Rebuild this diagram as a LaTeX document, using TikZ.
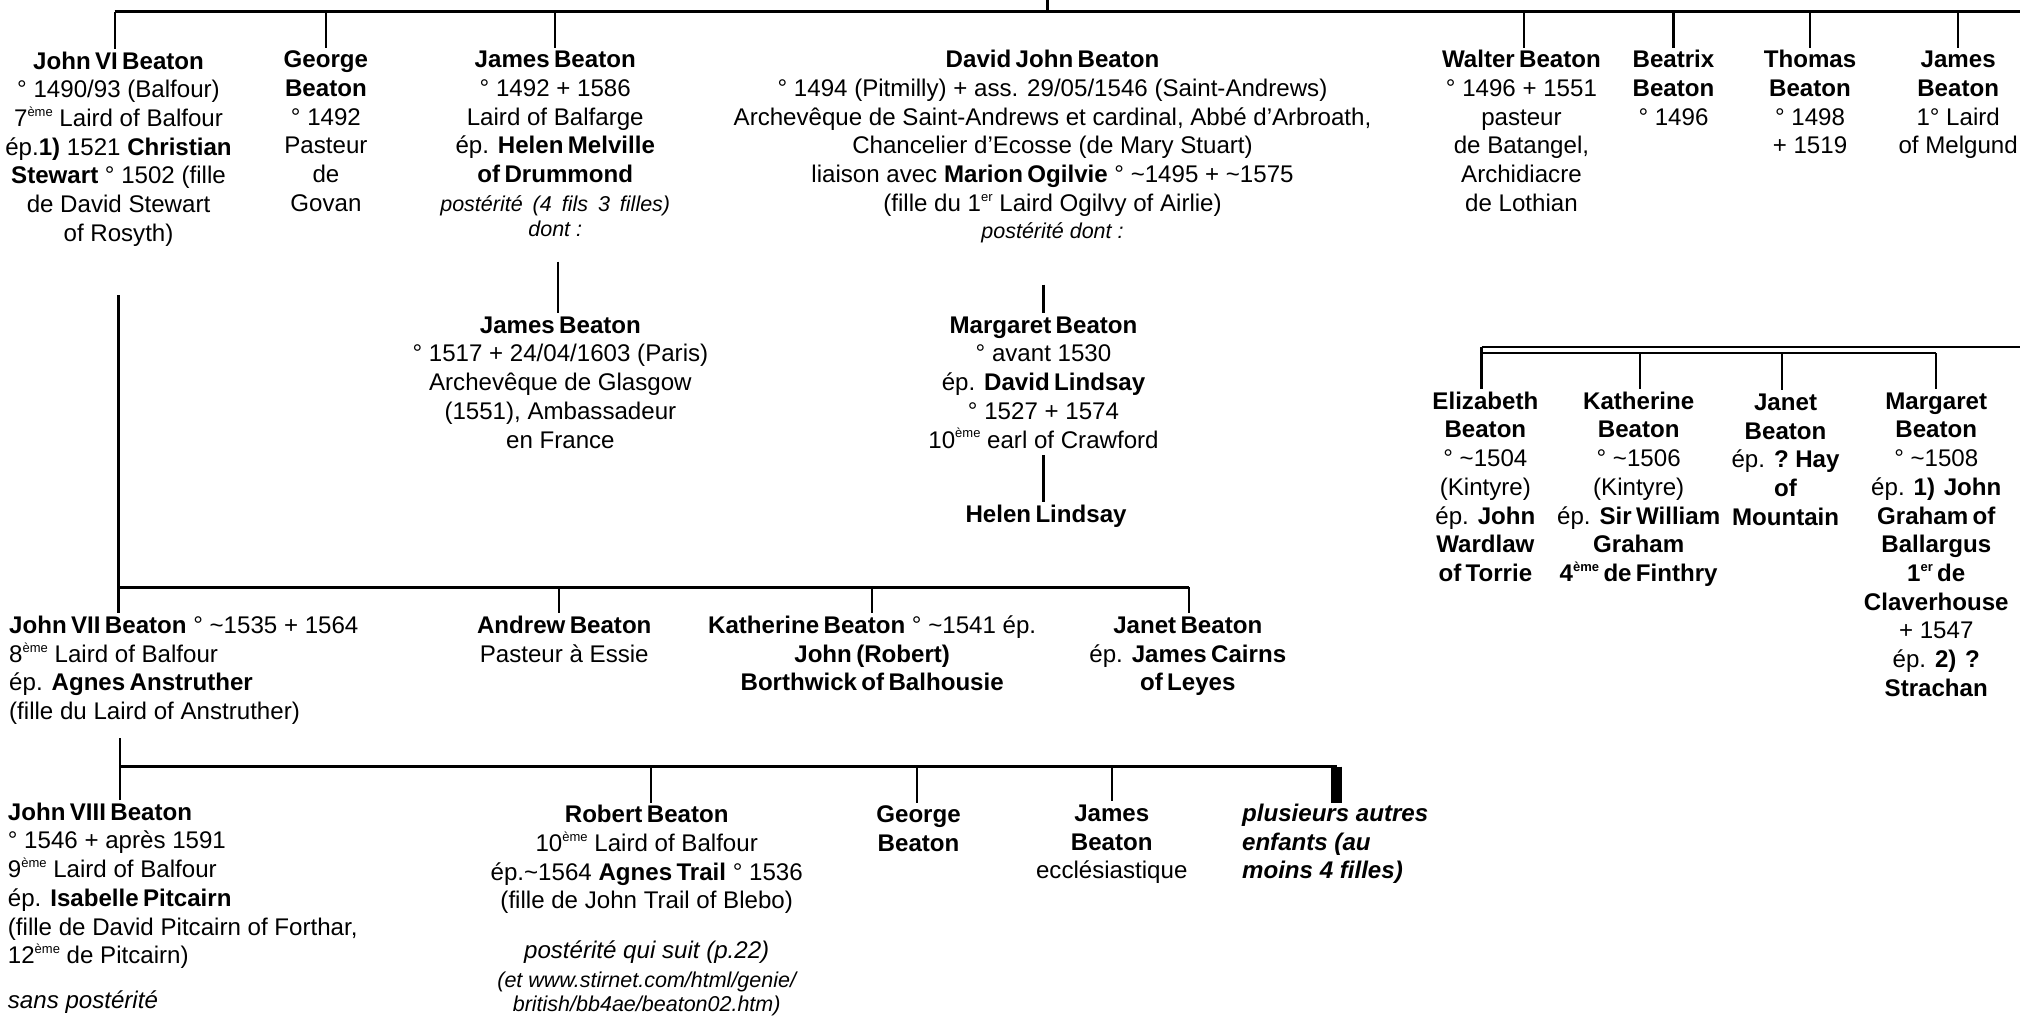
\documentclass[tikz,border=0pt]{standalone}
\usepackage{fontspec}
\setmainfont{Liberation Sans}[BoldFeatures={WordSpace=0.65}]
\newcommand\eme[1]{\raisebox{0.42em}{\fontsize{13}{13}\selectfont #1}}
\newcommand\tld{\textasciitilde}
\newcommand\smit[1]{{\fontsize{21.5}{22}\selectfont\itshape #1}}
\newcommand\mdit[1]{{\itshape #1}}
\newcommand\wg{\hspace{4pt}}
\newcommand\fl{\rule{0pt}{20pt}}
\tikzset{
  person/.style={anchor=north,inner sep=0pt,align=center,
    font=\fontsize{24.1}{28.7}\selectfont},
  personl/.style={person,anchor=north west,align=left},
  bar/.style={line width=2.7pt,black},
  stem/.style={line width=2.1pt,black},
  thinbar/.style={line width=2.2pt,black}
}
\begin{document}
\begin{tikzpicture}[x=1.28827pt,y=-1.28827pt]
\useasboundingbox (0,0) rectangle (1568,787.9);
% ---- first generation
\node[person] (john6) at (92,38) {\fl\textbf{John VI Beaton}\\° 1490/93 (Balfour)\\7\eme{ème} Laird of Balfour\\ép.\textbf{1)} 1521 \textbf{Christian}\\\textbf{Stewart} ° 1502 (fille\\de David Stewart\\of Rosyth)};
\node[person] (george) at (253,37) {\fl\textbf{George}\\\textbf{Beaton}\\° 1492\\Pasteur\\de\\Govan};
\node[person] (james) at (431,37) {\fl\textbf{James Beaton}\\° 1492 + 1586\\Laird of Balfarge\\ép. \textbf{Helen Melville}\\\textbf{of Drummond}\\\smit{postérité\wg{} (4\wg{} fils\wg{} 3\wg{} filles)}\\[-4pt]\smit{dont :}};
\node[person] (david) at (817,37) {\fl\textbf{David John Beaton}\\° 1494 (Pitmilly) + ass. 29/05/1546 (Saint-Andrews)\\Archevêque de Saint-Andrews et cardinal, Abbé d’Arbroath,\\Chancelier d’Ecosse (de Mary Stuart)\\liaison avec \textbf{Marion Ogilvie} ° \tld1495 + \tld1575\\(fille du 1\eme{er} Laird Ogilvy of Airlie)\\[-2pt]\smit{postérité dont :}};
\node[person] (walter) at (1181,37) {\fl\textbf{Walter Beaton}\\° 1496 + 1551\\pasteur\\de Batangel,\\Archidiacre\\de Lothian};
\node[person] (beatrix) at (1299,37) {\fl\textbf{Beatrix}\\\textbf{Beaton}\\° 1496};
\node[person] (thomas) at (1405,37) {\fl\textbf{Thomas}\\\textbf{Beaton}\\° 1498\\+ 1519};
\node[person] (james4) at (1520,37) {\fl\textbf{James}\\\textbf{Beaton}\\1° Laird\\of Melgund};
\coordinate (topin) at (813,0);
\coordinate (topjoin) at (813,9);
\coordinate (topl) at (89,9);
\coordinate (topr) at (1568,9);
\draw[bar] (topl) -- (topr);
\draw[bar] (topin) -- (topjoin);
\draw[stem] (topl) -- (topl |- john6.north);
\coordinate (t2) at (253,9);
\coordinate (t3) at (431,9);
\coordinate (t4) at (1183,9);
\coordinate (t5) at (1299,9);
\coordinate (t6) at (1405,9);
\coordinate (t7) at (1520,9);
\draw[stem] (t2) -- (t2 |- george.north);
\draw[stem] (t3) -- (t3 |- james.north);
\draw[stem] (t4) -- (t4 |- walter.north);
\draw[stem] (t5) -- (t5 |- beatrix.north);
\draw[stem] (t6) -- (t6 |- thomas.north);
\draw[stem] (t7) -- (t7 |- james4.north);
% ---- James and David descendants
\node[person] (james2) at (435,243) {\fl\textbf{James Beaton}\\° 1517 + 24/04/1603 (Paris)\\Archevêque de Glasgow\\(1551), Ambassadeur\\en France};
\coordinate (j2top) at (433,203);
\draw[stem] (j2top) -- (j2top |- james2.north);
\node[person] (margaret) at (810,243) {\fl\textbf{Margaret Beaton}\\° avant 1530\\ép. \textbf{David Lindsay}\\° 1527 + 1574\\10\eme{ème} earl of Crawford};
\coordinate (m2top) at (810,221);
\draw[stem] (m2top) -- (m2top |- margaret.north);
\node[person] (helen) at (812,390) {\fl\textbf{Helen Lindsay}};
\coordinate (h2top) at (810,353);
\draw[stem] (h2top) -- (h2top |- helen.north);
% ---- right family
\node[person] (eliz) at (1153,302) {\fl\textbf{Elizabeth}\\\textbf{Beaton}\\° \tld1504\\(Kintyre)\\ép. \textbf{John}\\\textbf{Wardlaw}\\\textbf{of Torrie}};
\node[person] (kath) at (1272,302) {\fl\textbf{Katherine}\\\textbf{Beaton}\\° \tld1506\\(Kintyre)\\ép. \textbf{Sir William}\\\textbf{Graham}\\\textbf{4\eme{ème} de Finthry}};
\node[person] (janet) at (1386,303) {\fl\textbf{Janet}\\\textbf{Beaton}\\ép. \textbf{? Hay}\\\textbf{of}\\\textbf{Mountain}};
\node[person] (marg2) at (1503,302) {\fl\textbf{Margaret}\\\textbf{Beaton}\\° \tld1508\\ép. \textbf{1)\ \ John}\\\textbf{Graham of}\\\textbf{Ballargus}\\\textbf{1\eme{er} de}\\\textbf{Claverhouse}\\+ 1547\\ép. \textbf{2)\ \ ?}\\\textbf{Strachan}};
\coordinate (r1) at (1150,269.5);
\coordinate (r2) at (1568,269.5);
\coordinate (s1) at (1150,274);
\coordinate (s2) at (1273,274);
\coordinate (s3) at (1383,274);
\coordinate (s4) at (1503,274);
\draw[thinbar] (r1) -- (r2);
\draw[thinbar] (r1) -- (s1);
\draw[thinbar] (s1) -- (s4);
\draw[stem] (s1) -- (s1 |- eliz.north);
\draw[stem] (s2) -- (s2 |- kath.north);
\draw[stem] (s3) -- (s3 |- janet.north);
\draw[stem] (s4) -- (s4 |- marg2.north);
% ---- John VII generation
\node[personl] (john7) at (7,476) {\fl\textbf{John VII Beaton} ° \tld1535 + 1564\\8\eme{ème} Laird of Balfour\\ép. \textbf{Agnes Anstruther}\\(fille du Laird of Anstruther)};
\node[person] (andrew) at (438,476) {\fl\textbf{Andrew Beaton}\\Pasteur à Essie};
\node[person] (kath2) at (677,476) {\fl\textbf{Katherine Beaton} ° \tld1541 ép.\\\textbf{John (Robert)}\\\textbf{Borthwick of Balhousie}};
\node[person] (janet2) at (922,476) {\fl\textbf{Janet Beaton}\\ép. \textbf{James Cairns}\\\textbf{of Leyes}};
\coordinate (v7top) at (92,229);
\coordinate (v7) at (92,456);
\coordinate (v7b) at (434,456);
\coordinate (v7c) at (677,456);
\coordinate (v7d) at (923,456);
\draw[stem] (v7top) -- (v7top |- john7.north);
\draw[bar] (v7) -- (v7d);
\draw[stem] (v7b) -- (v7b |- andrew.north);
\draw[stem] (v7c) -- (v7c |- kath2.north);
\draw[stem] (v7d) -- (v7d |- janet2.north);
% ---- John VIII generation
\node[personl] (john8) at (6,621) {\fl\textbf{John VIII Beaton}\\° 1546 + après 1591\\9\eme{ème} Laird of Balfour\\ép. \textbf{Isabelle Pitcairn}\\(fille de David Pitcairn of Forthar,\\12\eme{ème} de Pitcairn)\\[16pt]\mdit{sans postérité}};
\node[person] (robert) at (502,623) {\fl\textbf{Robert Beaton}\\10\eme{ème} Laird of Balfour\\ép.\tld1564 \textbf{Agnes Trail} ° 1536\\(fille de John Trail of Blebo)\\[21pt]\mdit{postérité qui suit (p.22)}\\[0pt]\smit{(et www.stirnet.com/html/genie/}\\[-5pt]\smit{british/bb4ae/beaton02.htm)}};
\node[person] (george2) at (713,623) {\fl\textbf{George}\\\textbf{Beaton}};
\node[person] (james5) at (863,622) {\fl\textbf{James}\\\textbf{Beaton}\\ecclésiastique};
\node[personl] (autres) at (964,622) {\fl\textbf{\textit{plusieurs autres}}\\\textbf{\textit{enfants (au}}\\\textbf{\textit{moins 4 filles)}}};
\coordinate (v8top) at (93,573);
\coordinate (v8) at (93,595);
\coordinate (v8b) at (505,595);
\coordinate (v8c) at (712,595);
\coordinate (v8d) at (863,595);
\coordinate (v8e) at (1037.5,595);
\coordinate (v8f) at (1037.5,623);
\draw[stem] (v8top) -- (v8top |- john8.north);
\draw[bar] (v8) -- (v8e);
\draw[stem] (v8b) -- (v8b |- robert.north);
\draw[stem] (v8c) -- (v8c |- george2.north);
\draw[stem] (v8d) -- (v8d |- james5.north);
\draw[line width=11pt,black] (v8e) -- (v8f);
\end{tikzpicture}
\end{document}
